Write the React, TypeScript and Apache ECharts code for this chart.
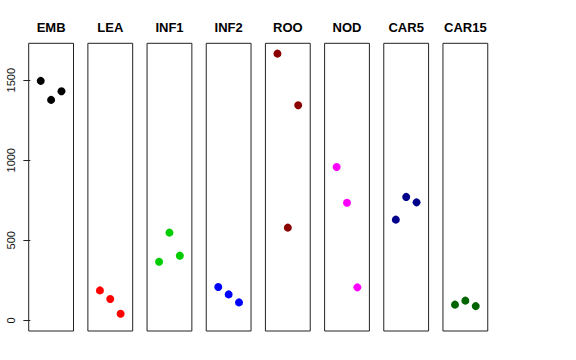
import React, { useEffect, useRef } from "react";
import * as echarts from "echarts";

const panels = ["EMB", "LEA", "INF1", "INF2", "ROO", "NOD", "CAR5", "CAR15"];
const colors = ["#000000", "#FF0000", "#00CD00", "#0000FF", "#8B0000", "#FF00FF", "#00008B", "#006400"];
const xPositions = [1, 2, 3];
const values: number[][] = [
  [1496, 1377, 1431],
  [187, 133, 41],
  [366, 548, 404],
  [208, 162, 112],
  [1666, 579, 1344],
  [958, 735, 206],
  [629, 771, 737],
  [98, 123, 89],
];
const yTicks = [0, 500, 1000, 1500];
const yMin = -66.6;
const yMax = 1730.6;
const xMin = -0.16;
const xMax = 4.16;

export default function App() {
  const ref = useRef<HTMLDivElement>(null);
  useEffect(() => {
    if (!ref.current) return;
    const chart = echarts.init(ref.current, null, { renderer: "svg" });
    const left0 = 28.7;
    const step = 59.18;
    const w = 44.8;
    const top = 43.3;
    const h = 287.7;
    const grids: any[] = [];
    const xAxes: any[] = [];
    const yAxes: any[] = [];
    const series: any[] = [];
    const titles: any[] = [];
    panels.forEach((name, i) => {
      const left = left0 + i * step;
      grids.push({
        left,
        top,
        width: w,
        height: h,
        show: true,
        borderColor: "#222",
        borderWidth: 1,
        backgroundColor: "transparent",
      });
      xAxes.push({
        type: "value",
        gridIndex: i,
        min: xMin,
        max: xMax,
        show: false,
      });
      yAxes.push({
        type: "value",
        gridIndex: i,
        min: yMin,
        max: yMax,
        show: i === 0,
        splitLine: { show: false },
        axisLine: { show: false },
        axisTick: {
          show: i === 0,
          length: 7,
          customValues: yTicks,
          lineStyle: { color: "#222", width: 1 },
        },
        axisLabel: {
          show: i === 0,
          customValues: yTicks,
          formatter: (v: number) => String(v),
          rotate: 90,
          margin: 12,
          color: "#111",
          fontSize: 11,
          fontFamily: "Liberation Sans, Arial, sans-serif",
        },
      });
      series.push({
        type: "scatter",
        name,
        xAxisIndex: i,
        yAxisIndex: i,
        symbol: "circle",
        symbolSize: 8,
        itemStyle: { color: colors[i], opacity: 1 },
        data: xPositions.map((x, j) => [x, values[i][j]]),
      });
      titles.push({
        text: name,
        left: left + w / 2,
        top: 21,
        textAlign: "center",
        padding: 0,
        textStyle: {
          fontSize: 13,
          fontWeight: "bold",
          color: "#000",
          fontFamily: "Liberation Sans, Arial, sans-serif",
        },
      });
    });
    chart.setOption({
      animation: false,
      backgroundColor: "#ffffff",
      title: titles,
      grid: grids,
      xAxis: xAxes,
      yAxis: yAxes,
      series,
    });
    return () => chart.dispose();
  }, []);
  return (
    <div
      ref={ref}
      style={{ position: "fixed", left: 0, top: 0, width: 576, height: 360 }}
    />
  );
}
